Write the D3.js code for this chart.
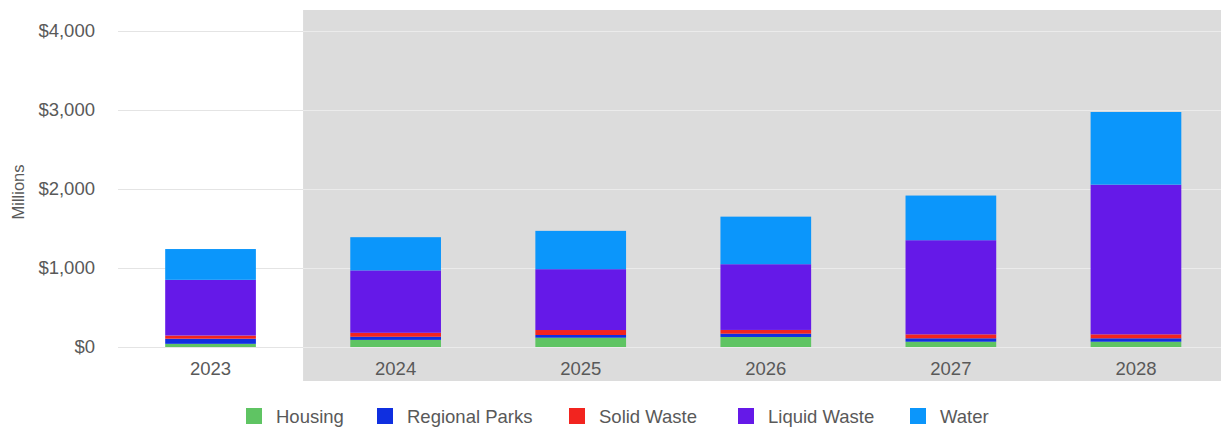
<!DOCTYPE html>
<html>
<head>
<meta charset="utf-8">
<script src="https://cdn.jsdelivr.net/npm/d3@7"></script>
<style>
  html, body { margin: 0; padding: 0; background: #fff; }
  svg { display: block; font-family: "Liberation Sans", Arial, sans-serif; }
</style>
</head>
<body>
<svg id="chart" width="1231" height="428"></svg>
<script>
const years = ["2023", "2024", "2025", "2026", "2027", "2028"];
const seriesNames = ["Housing", "Regional Parks", "Solid Waste", "Liquid Waste", "Water"];
const housing = [40, 90, 118, 127, 67, 67];
const regionalParks = [65, 40, 34, 42, 43, 43];
const solidWaste = [40, 50, 63, 47, 50, 50];
const liquidWaste = [705, 790, 770, 832, 1192, 1895];
const water = [390, 420, 485, 602, 565, 920];
const colors = ["#5fc463", "#0f2fe0", "#f2241f", "#6519e8", "#0b96fb"];
const yTicks = [0, 1000, 2000, 3000, 4000];
const shadedFrom = "2024";

(function () {
const svg = d3.select("#chart");
const mLeft = 118, mRight = 1228.5, mTop = 31, mBottom = 347;

const x = d3.scaleBand().domain(years).range([mLeft, mRight]).paddingInner(0.51).paddingOuter(0.255);
const y = d3.scaleLinear().domain([0, 4000]).range([mBottom, mTop]);

const table = years.map((yr, i) => ({
  year: yr,
  "Housing": housing[i],
  "Regional Parks": regionalParks[i],
  "Solid Waste": solidWaste[i],
  "Liquid Waste": liquidWaste[i],
  "Water": water[i]
}));
const stacked = d3.stack().keys(seriesNames)(table);
const color = d3.scaleOrdinal().domain(seriesNames).range(colors);

// shaded forecast region
const shadeX0 = x(shadedFrom) - x.step() * x.paddingInner() / 2;
svg.append("rect")
  .attr("x", shadeX0)
  .attr("y", mTop - 21)
  .attr("width", 1221 - shadeX0)
  .attr("height", 381 - (mTop - 21))
  .attr("fill", "#dcdcdc");

// gridlines
const grid = svg.append("g");
grid.selectAll("line.g1").data(yTicks).join("line")
  .attr("x1", mLeft).attr("x2", shadeX0)
  .attr("y1", d => Math.round(y(d)) + 0.5).attr("y2", d => Math.round(y(d)) + 0.5)
  .attr("stroke", "#e4e4e4").attr("stroke-width", 1);
grid.selectAll("line.g2").data(yTicks).join("line")
  .attr("x1", shadeX0).attr("x2", 1221)
  .attr("y1", d => Math.round(y(d)) + 0.5).attr("y2", d => Math.round(y(d)) + 0.5)
  .attr("stroke", "#ebebeb").attr("stroke-width", 1);

// y axis
const yAxis = d3.axisLeft(y).tickValues(yTicks).tickSize(0).tickPadding(0)
  .tickFormat(d => "$" + d3.format(",")(d));
const yg = svg.append("g").attr("transform", `translate(95,0)`).call(yAxis);
yg.select(".domain").remove();
yg.selectAll("text").attr("fill", "#595959").attr("font-size", 18.5)
  .attr("font-family", "'Liberation Sans', Arial, sans-serif");

// x axis
const xAxis = d3.axisBottom(x).tickSize(0).tickPadding(0);
const xg = svg.append("g").attr("transform", `translate(0,${mBottom + 15})`).call(xAxis);
xg.select(".domain").remove();
xg.selectAll("text").attr("fill", "#595959").attr("font-size", 18.5)
  .attr("font-family", "'Liberation Sans', Arial, sans-serif");

// y title
svg.append("text")
  .attr("transform", `translate(24,192) rotate(-90)`)
  .attr("text-anchor", "middle")
  .attr("fill", "#595959").attr("font-size", 16.5)
  .text("Millions");

// bars
svg.append("g").selectAll("g").data(stacked).join("g")
  .attr("fill", d => color(d.key))
  .selectAll("rect").data(d => d).join("rect")
  .attr("x", d => x(d.data.year))
  .attr("width", x.bandwidth())
  .attr("y", d => y(d[1]))
  .attr("height", d => y(d[0]) - y(d[1]));

// legend
const legendX = [246, 377, 569, 738, 910];
const lg = svg.append("g");
seriesNames.forEach((name, i) => {
  const g = lg.append("g").attr("transform", `translate(${legendX[i]},408)`);
  g.append("rect").attr("width", 16).attr("height", 16).attr("fill", colors[i]);
  g.append("text").attr("x", 30).attr("y", 15).attr("fill", "#595959")
    .attr("font-size", 18.5).text(name);
});
})();
</script>
</body>
</html>
